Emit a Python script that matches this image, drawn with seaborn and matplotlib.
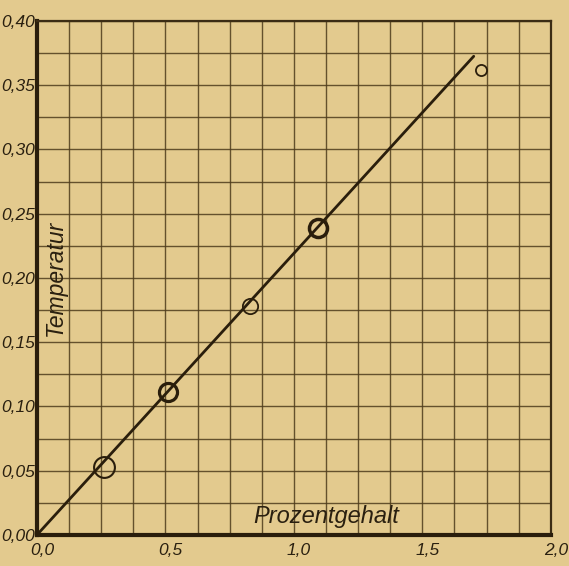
import numpy as np
import pandas as pd
import matplotlib
matplotlib.use("Agg")
import matplotlib.pyplot as plt
import matplotlib.transforms as mtransforms
import seaborn as sns

# measured points (Prozentgehalt vs Temperatur)
prozent = [0.26, 0.51, 0.83, 1.095, 1.73]
temperatur = [0.053, 0.111, 0.178, 0.239, 0.362]

# fitted straight line
line_x = [0.0, 1.70]
line_y = [0.0, 0.3725]

x_labels = ["0,0", "0,5", "1,0", "1,5", "2,0"]
y_labels = ["0,00", "0,05", "0,10", "0,15", "0,20", "0,25", "0,30", "0,35", "0,40"]

paper = "#E3CA8E"
ink = "#3b2c14"

sns.set_style("white")
plt.rcParams["font.family"] = ["Liberation Sans", "DejaVu Sans"]

fig = plt.figure(figsize=(5.69, 5.66), dpi=100, facecolor=paper)
ax = fig.add_axes([0.065, 0.055, 0.903, 0.908])
ax.set_facecolor(paper)

# paper grid: 16 x 16 squares
ax.set_xticks(np.arange(0, 2.0001, 0.125), minor=True)
ax.set_yticks(np.arange(0, 0.4001, 0.025), minor=True)
ax.set_xticks(np.arange(0, 2.0001, 0.5))
ax.set_yticks(np.arange(0, 0.4001, 0.05))
ax.set_xticklabels(x_labels)
ax.set_yticklabels(y_labels)
ax.grid(which="both", color="#4e3c1c", linewidth=1.0, alpha=0.85)
ax.tick_params(which="both", length=0, colors=ink, labelsize=12.5)
ax.tick_params(axis="y", pad=1.5)
ax.tick_params(axis="x", pad=6)
shift = mtransforms.ScaledTranslation(5 / 100, 0, fig.dpi_scale_trans)
for lab in ax.get_xticklabels() + ax.get_yticklabels():
    lab.set_style("italic")
    lab.set_color("#2a2010")
for lab in ax.get_xticklabels():
    lab.set_transform(lab.get_transform() + shift)

sns.lineplot(x=line_x, y=line_y, ax=ax, color="#2a1e0c", linewidth=2.0)

df = pd.DataFrame({"Prozentgehalt": prozent, "Temperatur": temperatur})
marker_px = [15, 13, 11, 13, 8]
edge_w = [1.5, 2.3, 1.3, 2.5, 1.3]
for (_, row), m, w in zip(df.iterrows(), marker_px, edge_w):
    ax.plot(row["Prozentgehalt"], row["Temperatur"], "o", ms=m, mfc="none",
            mec="#2a1e0c", mew=w, zorder=5)

ax.text(0.07, 0.20, "Temperatur", rotation=90, ha="center", va="center",
        fontsize=16.5, style="italic", color="#2a2010")
ax.text(1.125, 0.014, "Prozentgehalt", ha="center", va="center",
        fontsize=17, style="italic", color="#2a2010")

ax.set_xlim(0, 2.0)
ax.set_ylim(0, 0.40)
ax.set_xlabel("")
ax.set_ylabel("")
for side in ["left", "bottom"]:
    ax.spines[side].set_linewidth(3)
    ax.spines[side].set_color("#2a1e0c")
for side in ["top", "right"]:
    ax.spines[side].set_linewidth(1.6)
    ax.spines[side].set_color(ink)

fig.savefig("out.png", dpi=100, facecolor=paper)
